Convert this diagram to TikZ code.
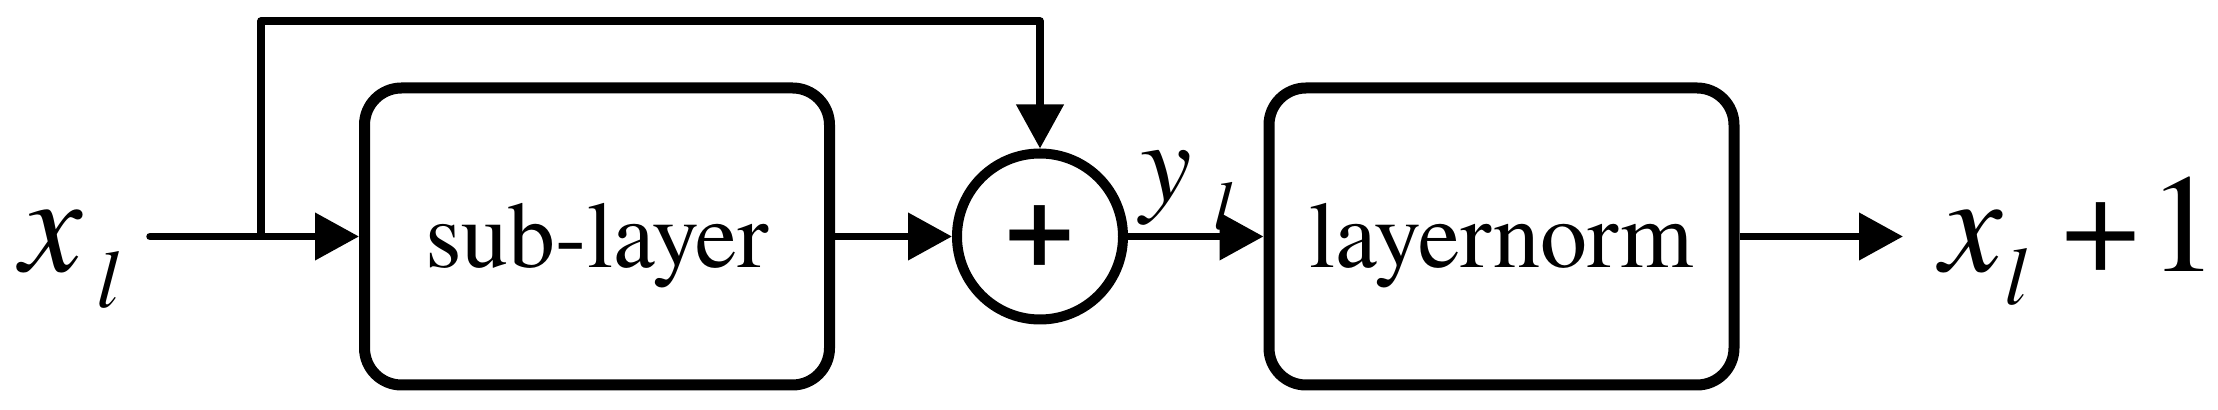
\documentclass[tikz,border=0pt]{standalone}
\usepackage{fontspec}
\setmainfont{texgyretermes}[Extension=.otf,UprightFont=*-regular,ItalicFont=*-italic,BoldFont=*-bold,BoldItalicFont=*-bolditalic]
\usetikzlibrary{arrows.meta}
\begin{document}
\begin{tikzpicture}[x=0.5pt,y=-0.5pt,
  conn/.style={line width=3.75pt},
  arr/.style={conn,-{Triangle[length=22pt,width=23pt]}},
  box/.style={draw,line width=5.5pt,rounded corners=18.5pt,minimum width=232.5pt,minimum height=148.5pt,inner sep=0pt,font=\fontsize{47}{50}\selectfont,text height=41pt,text depth=10pt},
  sumnode/.style={draw,circle,line width=5pt,minimum size=83pt,inner sep=0pt,font=\fontsize{62}{62}\selectfont\bfseries},
  lbl/.style={inner sep=0pt,anchor=base west}]
\useasboundingbox (0,0) rectangle (2218,410);
\node[box] (sub) at (597,236.5) {sub-layer};
\node[sumnode] (sum) at (1040,236.5) {+};
\node[box] (norm) at (1501.5,236.5) {layernorm};
\node[lbl,font=\fontsize{70}{70}\selectfont] (xin) at (20,272) {\textit{x}\hspace{7pt}\raisebox{-18pt}{\fontsize{41}{41}\selectfont\itshape l}};
\node[lbl,font=\fontsize{58}{58}\selectfont] (yl) at (1140,202) {\textit{y}\hspace{11pt}\raisebox{-14pt}{\fontsize{34.5}{35}\selectfont\itshape l}};
\node[lbl,font=\fontsize{70}{70}\selectfont] (xout) at (1940,272) {\textit{x}\hspace{1pt}\raisebox{-16.5pt}{\fontsize{41}{41}\selectfont\itshape l}\hspace{17pt}+\hspace{4pt}1};
\coordinate (in) at (150,236.5);
\coordinate (split) at (261,236.5);
\coordinate (top) at (261,21);
\coordinate (outend) at (1903,236.5);
\draw[conn,line cap=round] (in) -- (split);
\draw[arr] (split) -- (sub.west);
\draw[arr,line join=round] (split) -- (top) -| (sum.north);
\draw[arr] (sub.east) -- (sum.west);
\draw[arr] (sum.east) -- (norm.west);
\draw[arr] (norm.east) -- (outend);
\end{tikzpicture}
\end{document}
